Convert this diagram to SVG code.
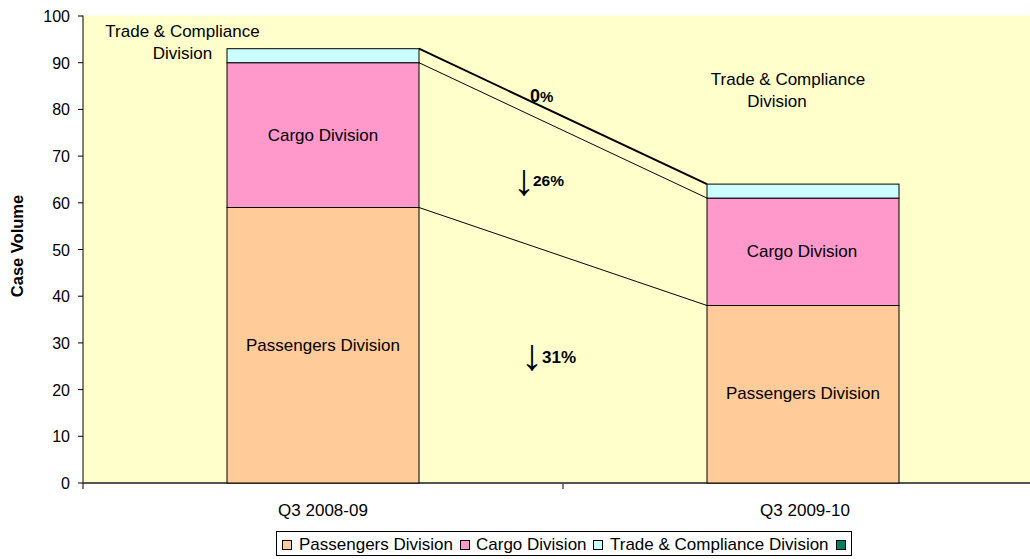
<svg xmlns="http://www.w3.org/2000/svg" width="1030" height="559" viewBox="0 0 1030 559">
  <style>
    text { font-family: "Liberation Sans", Arial, sans-serif; fill: #000; }
    .tick { font-size: 16px; text-anchor: end; }
    .lbl { font-size: 17px; text-anchor: middle; }
    .leg { font-size: 17px; }
    .pct { font-weight: bold; }
    .arw { font-size: 44px; }
    .bar { stroke: #000; stroke-width: 1; }
    .pass { fill: #FFCC99; }
    .cargo { fill: #FF99CC; }
    .trade { fill: #CCFFFF; }
    .other { fill: #008060; }
    .link { stroke: #000; fill: none; }
    .sw { stroke: #000; stroke-width: 1; }
  </style>

  <rect x="0" y="0" width="1030" height="559" fill="#fff"/>

  <!-- plot area -->
  <rect x="83" y="15.5" width="947" height="467.5" fill="#FFFFCC"/>

  <!-- axes -->
  <g id="axes">
    <line x1="83" y1="15.5" x2="83" y2="483" stroke="#000" stroke-width="1"/>
    <line x1="83" y1="483" x2="1030" y2="483" stroke="#555" stroke-width="2"/>
    <g stroke="#000" stroke-width="1">
      <line x1="78" y1="483" x2="83" y2="483"/>
      <line x1="78" y1="436.3" x2="83" y2="436.3"/>
      <line x1="78" y1="389.6" x2="83" y2="389.6"/>
      <line x1="78" y1="342.9" x2="83" y2="342.9"/>
      <line x1="78" y1="296.2" x2="83" y2="296.2"/>
      <line x1="78" y1="249.5" x2="83" y2="249.5"/>
      <line x1="78" y1="202.8" x2="83" y2="202.8"/>
      <line x1="78" y1="156.1" x2="83" y2="156.1"/>
      <line x1="78" y1="109.4" x2="83" y2="109.4"/>
      <line x1="78" y1="62.7" x2="83" y2="62.7"/>
      <line x1="78" y1="16" x2="83" y2="16"/>
    </g>
    <line x1="563" y1="483" x2="563" y2="489" stroke="#555" stroke-width="1.5"/>
    <line x1="83" y1="483" x2="83" y2="489" stroke="#000" stroke-width="1"/>
    <text class="tick" x="70" y="489">0</text>
    <text class="tick" x="70" y="442.3">10</text>
    <text class="tick" x="70" y="395.6">20</text>
    <text class="tick" x="70" y="348.9">30</text>
    <text class="tick" x="70" y="302.2">40</text>
    <text class="tick" x="70" y="255.5">50</text>
    <text class="tick" x="70" y="208.8">60</text>
    <text class="tick" x="70" y="162.1">70</text>
    <text class="tick" x="70" y="115.4">80</text>
    <text class="tick" x="70" y="68.7">90</text>
    <text class="tick" x="70" y="22">100</text>
    <text x="0" y="0" transform="translate(23,246) rotate(-90)" font-size="16.5" font-weight="bold" text-anchor="middle">Case Volume</text>
    <text class="lbl" x="323" y="516">Q3 2008-09</text>
    <text class="lbl" x="805" y="516">Q3 2009-10</text>
  </g>

  <!-- change connectors between the two periods -->
  <g id="connectors">
    <line class="link" x1="419" y1="48.7" x2="707" y2="184.1" stroke-width="2"/>
    <line class="link" x1="419" y1="62.7" x2="707" y2="198.1" stroke-width="1"/>
    <line class="link" x1="419" y1="207.5" x2="707" y2="305.5" stroke-width="1"/>
  </g>

  <!-- Q3 2008-09 stack -->
  <g id="bar-2008">
    <rect class="bar pass" x="227" y="207.5" width="192" height="275.5"/>
    <rect class="bar cargo" x="227" y="62.7" width="192" height="144.8"/>
    <rect class="bar trade" x="227" y="48.7" width="192" height="14"/>
    <text class="lbl" x="323" y="351">Passengers Division</text>
    <text class="lbl" x="323" y="141">Cargo Division</text>
    <text class="lbl" x="182.5" y="37">Trade &amp; Compliance</text>
    <text class="lbl" x="182.5" y="59">Division</text>
  </g>

  <!-- Q3 2009-10 stack -->
  <g id="bar-2009">
    <rect class="bar pass" x="707" y="305.5" width="192" height="177.5"/>
    <rect class="bar cargo" x="707" y="198.1" width="192" height="107.4"/>
    <rect class="bar trade" x="707" y="184.1" width="192" height="14"/>
    <text class="lbl" x="803" y="399">Passengers Division</text>
    <text class="lbl" x="802" y="257">Cargo Division</text>
    <text class="lbl" x="788" y="85">Trade &amp; Compliance</text>
    <text class="lbl" x="777" y="107">Division</text>
  </g>

  <!-- percentage changes -->
  <g id="changes">
    <text class="pct" y="102"><tspan x="530" font-size="18">0</tspan><tspan font-size="15">%</tspan></text>
    <text class="arw" x="513" y="195">↓</text>
    <text class="pct" x="533" y="186" font-size="15.5">26%</text>
    <text class="arw" x="521" y="370">↓</text>
    <text class="pct" x="542" y="363" font-size="17">31%</text>
  </g>

  <!-- legend -->
  <g id="legend">
    <rect x="276.5" y="531.5" width="575" height="24" fill="#fff" stroke="#000" stroke-width="1"/>
    <rect class="sw pass" x="282.5" y="540.5" width="9" height="9"/>
    <text class="leg" x="299" y="550">Passengers Division</text>
    <rect class="sw cargo" x="460.5" y="540.5" width="9" height="9"/>
    <text class="leg" x="476" y="550">Cargo Division</text>
    <rect class="sw trade" x="593.5" y="540.5" width="9" height="9"/>
    <text class="leg" x="610" y="550">Trade &amp; Compliance Division</text>
    <rect class="sw other" x="836.5" y="540.5" width="9" height="9"/>
  </g>
</svg>
